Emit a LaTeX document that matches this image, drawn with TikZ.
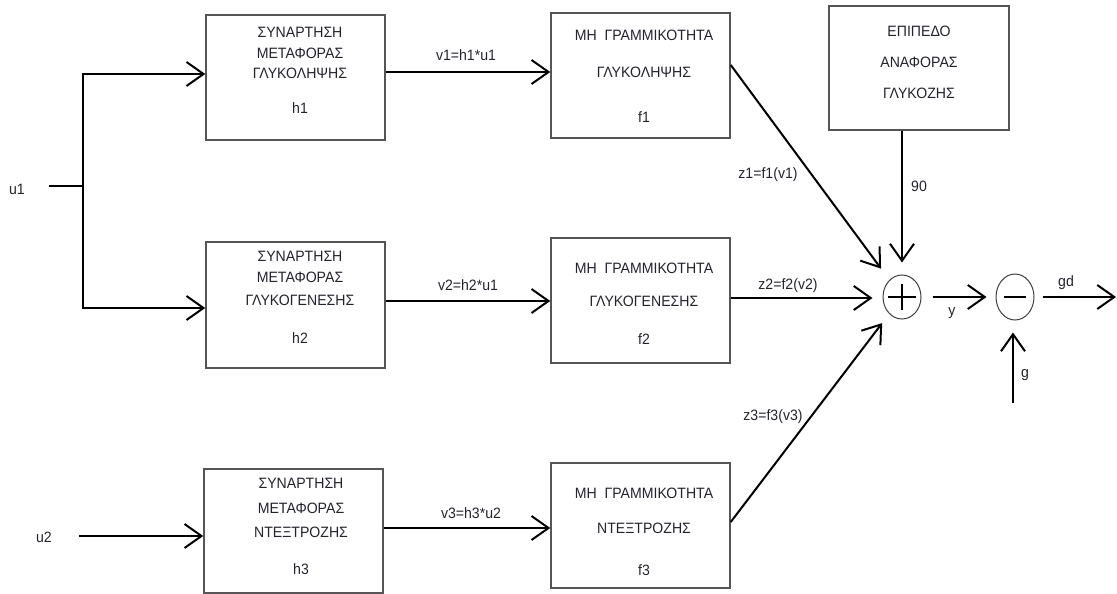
\documentclass[tikz,border=0pt]{standalone}
\usepackage{fontspec}
\setmainfont{Liberation Sans}[FakeStretch=0.94]
\usetikzlibrary{arrows.meta,shapes.geometric}
\definecolor{txtcol}{RGB}{35,35,45}
\definecolor{boxcol}{RGB}{85,85,85}
\begin{document}
\begin{tikzpicture}[x=1pt,y=-1pt,
  font=\fontsize{15}{20}\selectfont,
  box/.style={draw=boxcol, line width=1.5pt, inner sep=0pt, minimum width=179pt, minimum height=125pt},
  boxtext/.style={text=txtcol, align=center, inner sep=0pt},
  lbl/.style={text=txtcol, inner sep=0pt},
  wire/.style={line width=2pt, black},
  sig/.style={wire, -{Straight Barb[length=17pt,width=24pt]}},
  sumnode/.style={draw=black!75, line width=1pt, ellipse, minimum width=38pt, minimum height=44pt, inner sep=0pt}
]
\useasboundingbox (0,0) rectangle (1117,594);

% transfer-function blocks
\node[box] (h1) at (295.5,77.5) {};
\node[box, minimum height=126pt] (h2) at (295.5,305) {};
\node[box, minimum height=124pt] (h3) at (293.5,531) {};
\node[boxtext] (h1t) at (300,70) {ΣΥΝΑΡΤΗΣΗ\\[1pt]ΜΕΤΑΦΟΡΑΣ\\ΓΛΥΚΟΛΗΨΗΣ\\[15pt]h1};
\node[boxtext] (h2t) at (300,297) {ΣΥΝΑΡΤΗΣΗ\\[1pt]ΜΕΤΑΦΟΡΑΣ\\[3pt]ΓΛΥΚΟΓΕΝΕΣΗΣ\\[18pt]h2};
\node[boxtext] (h3t) at (301,526) {ΣΥΝΑΡΤΗΣΗ\\[5pt]ΜΕΤΑΦΟΡΑΣ\\[4pt]ΝΤΕΞΤΡΟΖΗΣ\\[17pt]h3};

% non-linearity blocks
\node[box] (f1) at (640.5,75.5) {};
\node[box] (f2) at (640.5,300.5) {};
\node[box] (f3) at (640.5,525.5) {};
\node[boxtext] (f1t) at (644,76) {ΜΗ\ \ ΓΡΑΜΜΙΚΟΤΗΤΑ\\[17pt]ΓΛΥΚΟΛΗΨΗΣ\\[25pt]f1};
\node[boxtext] (f2t) at (644,303.5) {ΜΗ\ \ ΓΡΑΜΜΙΚΟΤΗΤΑ\\[13pt]ΓΛΥΚΟΓΕΝΕΣΗΣ\\[18pt]f2};
\node[boxtext] (f3t) at (644,531.5) {ΜΗ\ \ ΓΡΑΜΜΙΚΟΤΗΤΑ\\[15pt]ΝΤΕΞΤΡΟΖΗΣ\\[22pt]f3};

% reference level block
\node[box, minimum width=180pt, minimum height=124pt] (ref) at (919,68) {};
\node[boxtext] (reft) at (919,62) {ΕΠΙΠΕΔΟ\\[11pt]ΑΝΑΦΟΡΑΣ\\[11pt]ΓΛΥΚΟΖΗΣ};

% summing junctions
\node[sumnode] (plus) at (902,297) {};
\draw[wire] ([xshift=-14pt]plus.center) -- ([xshift=14pt]plus.center)
            ([yshift=-13pt]plus.center) -- ([yshift=13pt]plus.center);
\node[sumnode, minimum height=46pt] (minus) at (1015,297) {};
\draw[wire] ([xshift=-11pt]minus.center) -- ([xshift=11pt]minus.center);

% inputs
\coordinate (u1in) at (49,186);
\coordinate (split) at (83,186);
\coordinate (u2in) at (79,536);
\node[lbl] (u1) at (17,189) {u1};
\node[lbl] (u2) at (44,537) {u2};
\draw[wire] (u1in) -- (split);
\draw[sig] (split) |- ([yshift=3.5pt]h1.west);
\draw[sig] (split) |- ([yshift=-3pt]h2.west);
\draw[sig] (u2in) -- ([yshift=-5pt]h3.west);

% block to block
\draw[sig] ([yshift=5.5pt]h1.east) -- ([yshift=3.5pt]f1.west);
\draw[sig] ([yshift=4pt]h2.east) -- ([yshift=-0.5pt]f2.west);
\draw[sig] ([yshift=3pt]h3.east) -- ([yshift=-2.5pt]f3.west);
\node[lbl] (v1) at (466,55) {v1=h1*u1};
\node[lbl] (v2) at (468,285) {v2=h2*u1};
\node[lbl] (v3) at (471,513) {v3=h3*u2};

% into the adder
\draw[sig, shorten >=14pt] ([yshift=10.5pt]f1.east) -- (plus);
\draw[sig, shorten >=10pt] ([yshift=2.5pt]f2.east) -- ([yshift=-1pt]plus.west);
\draw[sig, shorten >=11.5pt] ([yshift=3.5pt]f3.east) -- (plus);
\draw[sig, shorten >=12pt] (ref.south -| plus) -- (plus);
\node[lbl] (z1) at (768,175) {z1=f1(v1)};
\node[lbl] (z2) at (788,286) {z2=f2(v2)};
\node[lbl] (z3) at (773,417) {z3=f3(v3)};
\node[lbl] (n90) at (919,186) {90};

% output stage
\coordinate (gdout) at (1116,297);
\coordinate (gin) at (1013,403);
\draw[sig, shorten <=11pt, shorten >=9pt] (plus) -- (minus);
\draw[sig, shorten <=8pt] (minus) -- (gdout);
\draw[sig, shorten >=12pt] (gin) -- (gin |- minus.south);
\node[lbl] (y) at (952,313) {y};
\node[lbl] (gd) at (1066,283) {gd};
\node[lbl] (g) at (1025,375) {g};
\end{tikzpicture}
\end{document}
